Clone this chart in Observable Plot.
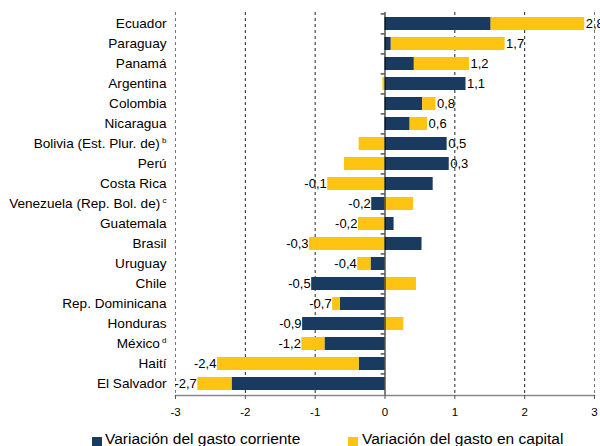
<!DOCTYPE html>
<html>
<head>
<meta charset="utf-8">
<script src="https://cdn.jsdelivr.net/npm/d3@7"></script>
<script src="https://cdn.jsdelivr.net/npm/@observablehq/plot@0.6"></script>
<style>
  body { margin: 0; background: #fff; font-family: "Liberation Sans", Arial, sans-serif; }
  #wrap { position: relative; width: 600px; height: 446px; overflow: hidden; }
  .leg { position: absolute; top: 430px; font-size: 15.5px; color: #000; white-space: nowrap; }
  .sw { position: absolute; top: 437px; width: 10px; height: 10px; }
</style>
</head>
<body>
<div id="wrap"></div>
<script>
const countries = ["Ecuador","Paraguay","Panamá","Argentina","Colombia","Nicaragua","Bolivia (Est. Plur. de)","Perú","Costa Rica","Venezuela (Rep. Bol. de)","Guatemala","Brasil","Uruguay","Chile","Rep. Dominicana","Honduras","México","Haití","El Salvador"];
const footnotes = {"Bolivia (Est. Plur. de)": "b", "Venezuela (Rep. Bol. de)": "c", "México": "d"};
const currentSpending = [1.52, 0.09, 0.42, 1.16, 0.54, 0.36, 0.89, 0.92, 0.69, -0.19, 0.13, 0.53, -0.20, -1.05, -0.64, -1.18, -0.86, -0.37, -2.19];
const capitalSpending = [1.34, 1.63, 0.79, -0.03, 0.19, 0.25, -0.37, -0.58, -0.82, 0.41, -0.38, -1.08, -0.19, 0.45, -0.11, 0.27, -0.33, -2.03, -0.49];
const totalLabels = [2.8, 1.7, 1.2, 1.1, 0.8, 0.6, 0.5, 0.3, -0.1, -0.2, -0.2, -0.3, -0.4, -0.5, -0.7, -0.9, -1.2, -2.4, -2.7];
const seriesNames = ["Variación del gasto corriente", "Variación del gasto en capital"];
const xTicks = [-3, -2, -1, 0, 1, 2, 3];
const colors = ["#1b3a5f", "#ffc312"];

const rows = [];
countries.forEach((c, i) => {
  rows.push({country: c, series: seriesNames[0], value: currentSpending[i]});
  rows.push({country: c, series: seriesNames[1], value: capitalSpending[i]});
});
const labels = countries.map((c, i) => {
  const vals = [currentSpending[i], capitalSpending[i]];
  const pos = d3.sum(vals.filter(v => v > 0));
  const neg = d3.sum(vals.filter(v => v < 0));
  const t = totalLabels[i];
  return {country: c, total: t, x: t >= 0 ? pos : neg, text: d3.format(".1f")(t).replace(".", ",").replace("−", "-")};
});
const posLabels = labels.filter(d => d.total >= 0);
const negLabels = labels.filter(d => d.total < 0);

const height = 426, marginTop = 12, marginBottom = 31;
const step = (height - marginTop - marginBottom) / (countries.length - 0.35 + 0.4);

const chart = Plot.plot({
  width: 600,
  height,
  marginLeft: 175,
  marginRight: 6,
  marginTop,
  marginBottom,
  style: {fontFamily: "Liberation Sans, Arial, sans-serif", background: "#fff", color: "#000"},
  x: {domain: [-3, 3], label: null},
  y: {domain: countries, paddingInner: 0.35, paddingOuter: 0.2, label: null},
  color: {domain: seriesNames, range: colors},
  marks: [
    Plot.ruleX(xTicks.filter(d => d !== 0), {stroke: d => Math.abs(d) === 3 ? "#777" : "#222", strokeDasharray: "3,3", strokeWidth: 1}),
    Plot.barX(rows, {x: "value", y: "country", fill: "series", order: seriesNames}),
    Plot.ruleX([0], {stroke: "#000", strokeWidth: 1}),
    Plot.ruleY(countries, {y: d => d, x1: -0.055, x2: 0, dy: -step / 2, stroke: "#000"}),
    Plot.text(posLabels, {x: "x", y: "country", text: "text", textAnchor: "start", dx: 1, fill: "#000", className: "vlabel"}),
    Plot.text(negLabels, {x: "x", y: "country", text: "text", textAnchor: "end", dx: -1, fill: "#000", className: "vlabel"}),
    Plot.frame({anchor: "bottom", stroke: "#888", strokeWidth: 1.5}),
    Plot.axisX({ticks: xTicks, tickSize: 4, tickPadding: 8, tickFormat: d => String(d), stroke: "#555", className: "xax"}),
    Plot.axisY({tickSize: 0, tickPadding: 9, className: "yax"})
  ]
});

function setFont(sel, size) {
  chart.querySelectorAll(sel).forEach(el => { el.style.fontSize = size; el.setAttribute("font-size", parseFloat(size)); });
}
setFont(".vlabel text", "13px");
setFont("g[aria-label='y-axis tick label'] text", "13.6px");
setFont("g[aria-label='x-axis tick label'] text", "11.5px");

// add superscript footnotes to y tick labels
chart.querySelectorAll("g[aria-label='y-axis tick label'] text").forEach(t => {
  const name = t.textContent;
  if (footnotes[name]) {
    const sp = document.createElementNS("http://www.w3.org/2000/svg", "tspan");
    sp.textContent = " " + footnotes[name];
    sp.setAttribute("font-size", "8");
    sp.style.fontSize = "8px";
    sp.setAttribute("dy", "-5");
    t.appendChild(sp);
  }
});

const wrap = document.getElementById("wrap");
wrap.appendChild(chart);

const legendItems = [
  {name: seriesNames[0], color: colors[0], sx: 92, tx: 105},
  {name: seriesNames[1], color: colors[1], sx: 348, tx: 362}
];
legendItems.forEach(it => {
  const sw = document.createElement("div");
  sw.className = "sw";
  sw.style.left = it.sx + "px";
  sw.style.background = it.color;
  wrap.appendChild(sw);
  const tx = document.createElement("div");
  tx.className = "leg";
  tx.style.left = it.tx + "px";
  tx.textContent = it.name;
  wrap.appendChild(tx);
});
</script>
</body>
</html>
